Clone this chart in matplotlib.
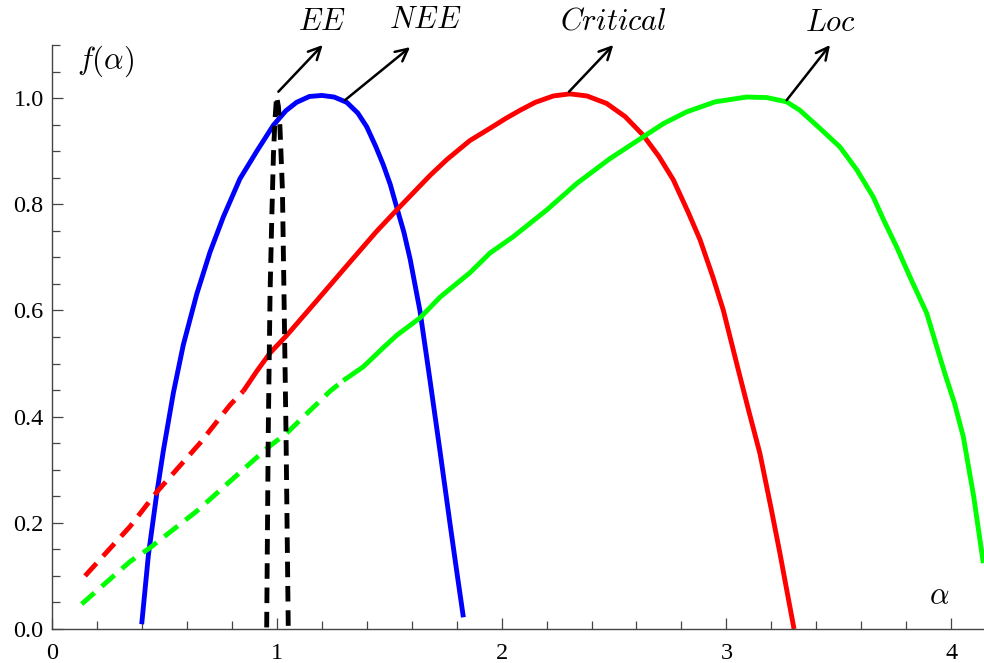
import matplotlib
matplotlib.use("Agg")
import matplotlib.pyplot as plt
from matplotlib.ticker import MultipleLocator, FormatStrFormatter

plt.rcParams['font.family'] = ['Liberation Serif', 'DejaVu Serif']
plt.rcParams['mathtext.fontset'] = 'cm'

# NEE (blue)
nee_a = [0.399, 0.429, 0.466, 0.495, 0.540, 0.584, 0.644, 0.703, 0.762, 0.836, 0.911,
         0.985, 1.040, 1.088, 1.145, 1.200, 1.255, 1.311, 1.360, 1.400, 1.440, 1.474,
         1.505, 1.533, 1.565, 1.593, 1.637, 1.681, 1.726, 1.770, 1.800, 1.830]
nee_f = [0.009, 0.140, 0.255, 0.335, 0.445, 0.535, 0.631, 0.710, 0.776, 0.848, 0.900,
         0.949, 0.976, 0.992, 1.003, 1.005, 1.002, 0.992, 0.972, 0.946, 0.909, 0.874,
         0.837, 0.795, 0.748, 0.697, 0.599, 0.470, 0.335, 0.200, 0.110, 0.022]

# Critical (red): dashed part then solid part
crit_dash_a = [0.147, 0.347, 0.466, 0.658, 0.792, 0.851]
crit_dash_f = [0.100, 0.193, 0.258, 0.350, 0.422, 0.448]
crit_a = [0.851, 0.910, 0.970, 1.044, 1.177, 1.311, 1.444, 1.533, 1.681, 1.756, 1.859,
          1.948, 2.020, 2.082, 2.150, 2.230, 2.304, 2.380, 2.467, 2.550, 2.630, 2.700,
          2.764, 2.830, 2.883, 2.940, 2.986, 3.053, 3.100, 3.149, 3.200, 3.238, 3.270,
          3.301]
crit_f = [0.448, 0.485, 0.520, 0.553, 0.618, 0.684, 0.749, 0.789, 0.854, 0.884, 0.920,
          0.943, 0.962, 0.977, 0.992, 1.004, 1.008, 1.004, 0.990, 0.965, 0.930, 0.890,
          0.846, 0.785, 0.733, 0.663, 0.601, 0.488, 0.410, 0.331, 0.225, 0.143, 0.070,
          0.000]

# Loc (green): dashed part then solid part
loc_dash_a = [0.132, 0.347, 0.436, 0.644, 0.955, 1.044, 1.237, 1.296]
loc_dash_f = [0.047, 0.127, 0.153, 0.222, 0.340, 0.369, 0.448, 0.468]
loc_a = [1.296, 1.385, 1.474, 1.533, 1.637, 1.726, 1.859, 1.948, 2.052, 2.200, 2.334,
         2.482, 2.630, 2.720, 2.823, 2.950, 3.090, 3.180, 3.268, 3.327, 3.416, 3.505,
         3.580, 3.653, 3.700, 3.757, 3.820, 3.891, 3.930, 3.972, 4.015, 4.054, 4.100,
         4.143]
loc_f = [0.468, 0.494, 0.530, 0.553, 0.586, 0.625, 0.671, 0.708, 0.739, 0.789, 0.839,
         0.886, 0.927, 0.952, 0.974, 0.993, 1.002, 1.001, 0.993, 0.977, 0.943, 0.908,
         0.865, 0.814, 0.770, 0.720, 0.660, 0.595, 0.540, 0.481, 0.425, 0.362, 0.250,
         0.124]

# EE (black dashed)
ee_a = [0.955, 0.962, 0.970, 0.977, 0.985, 0.992, 0.999, 1.007, 1.014, 1.025, 1.032,
        1.041, 1.051]
ee_f = [0.003, 0.369, 0.631, 0.762, 0.893, 0.960, 1.003, 0.985, 0.946, 0.828, 0.631,
        0.369, 0.003]

labels = ['$EE$', '$NEE$', '$Critical$', '$Loc$']
arrow_tail = [(1.007, 1.012), (1.303, 0.996), (2.300, 1.012), (3.268, 0.996)]
arrow_tip = [(1.204, 1.100), (1.593, 1.096), (2.497, 1.100), (3.461, 1.100)]
label_pos = [(1.201, 1.143), (1.659, 1.147), (2.496, 1.144), (3.461, 1.141)]

fig = plt.figure(figsize=(9.84, 6.63), dpi=100)
ax = fig.add_axes([52 / 984, 34 / 663, 932 / 984, 584 / 663])

lw = 3.5
dash = (0, (3.5, 2.0))
ax.plot(nee_a, nee_f, color=(0, 0, 1), lw=lw, clip_on=False, solid_capstyle='butt')
ax.plot(crit_dash_a, crit_dash_f, color=(1, 0, 0), lw=lw, ls=dash, clip_on=False)
ax.plot(crit_a, crit_f, color=(1, 0, 0), lw=lw, clip_on=False, solid_capstyle='butt')
ax.plot(loc_dash_a, loc_dash_f, color=(0, 1, 0), lw=lw, ls=dash, clip_on=False)
ax.plot(loc_a, loc_f, color=(0, 1, 0), lw=lw, clip_on=False, solid_capstyle='butt')
ax.plot(ee_a, ee_f, color='black', lw=lw, ls=(0, (3.2, 1.8)), clip_on=False)

for lab, tail, tip, pos in zip(labels, arrow_tail, arrow_tip, label_pos):
    ax.annotate('', xy=tip, xytext=tail, annotation_clip=False,
                arrowprops=dict(arrowstyle='->', lw=1.8, color='black',
                                mutation_scale=22, shrinkA=0, shrinkB=0))
    ax.text(pos[0], pos[1], lab, fontsize=22, ha='center', va='center', clip_on=False)

ax.text(0.24, 1.07, r'$f(\alpha)$', fontsize=22, ha='center', va='center')
ax.text(3.947, 0.061, r'$\alpha$', fontsize=22, ha='center', va='center')

ax.set_xlim(0, 4.146)
ax.set_ylim(0, 1.1)
ax.xaxis.set_major_locator(MultipleLocator(1))
ax.xaxis.set_minor_locator(MultipleLocator(0.2))
ax.yaxis.set_major_locator(MultipleLocator(0.2))
ax.yaxis.set_minor_locator(MultipleLocator(0.05))
ax.xaxis.set_major_formatter(FormatStrFormatter('%d'))
ax.yaxis.set_major_formatter(FormatStrFormatter('%.1f'))

for s in ['top', 'right']:
    ax.spines[s].set_visible(False)
for s in ['left', 'bottom']:
    ax.spines[s].set_color('#444444')
    ax.spines[s].set_linewidth(1.0)

ax.tick_params(which='both', direction='in', color='#444444', labelsize=17.5)
ax.tick_params(which='major', length=8, width=0.9)
ax.tick_params(which='minor', length=5.5, width=0.9)
ax.tick_params(axis='x', pad=10)
ax.tick_params(axis='y', pad=6)

fig.savefig('out.png', dpi=100)
